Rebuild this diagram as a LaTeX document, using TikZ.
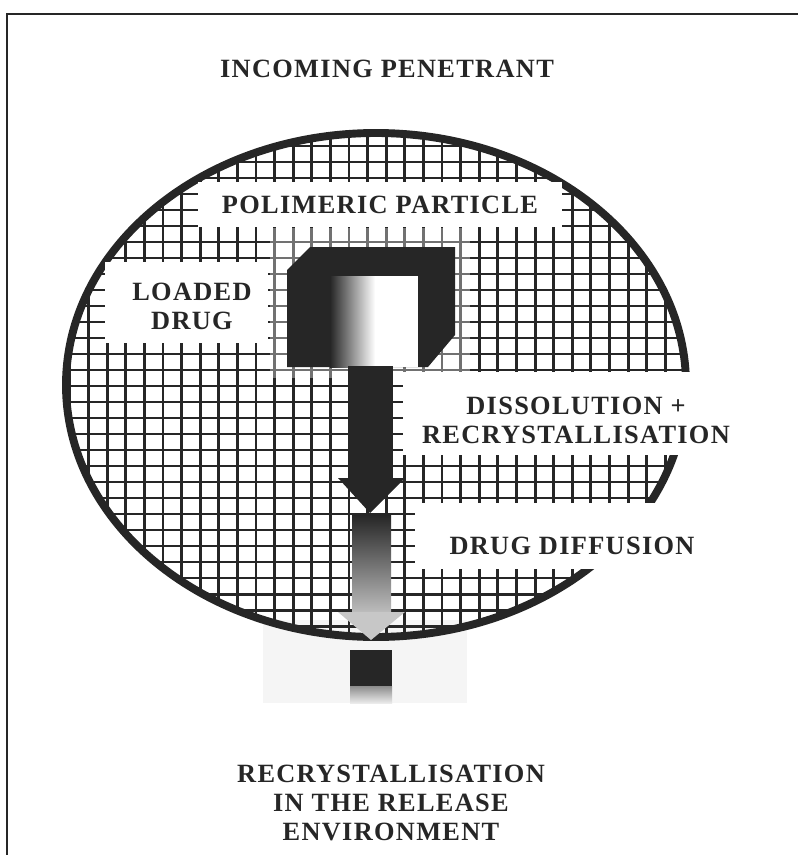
\documentclass[tikz,border=0pt]{standalone}
\usepackage{fontspec}
\setmainfont{Liberation Serif}
\newfontfamily\labelfont{Liberation Serif}[LetterSpace=5]
\definecolor{ink}{HTML}{262626}

\begin{document}
\begin{tikzpicture}[x=0.02cm, y=-0.02cm,
    tag/.style={font=\labelfont\bfseries\fontsize{15}{16.5}\selectfont, align=center, text=ink, inner sep=0pt},
    mesh/.style={ink, line width=1.7pt},
    haze/.style={fill=white, opacity=0.35}]
  \useasboundingbox (0,0) rectangle (798,855);

  % frame
  \draw[ink, line width=1.7pt] (7,855) -- (7,14) -- (798,14);

  % faint patch under the particle
  \fill[black!4] (263,620) rectangle (467,703);

  % polymer mesh
  \begin{scope}
    \clip (376,385) ellipse [x radius=310, y radius=252];
    \foreach \i in {-6,...,28}
      \draw[mesh] ({163+18.6*\i},120) -- ++(0,540);
    \foreach \j in {-17,...,16}
      \draw[mesh] (50,{402+16*\j}) -- ++(700,0);
  \end{scope}
  \draw[ink, line width=4.5pt] (376,385) ellipse [x radius=310, y radius=252];
  \fill[haze] (270,228) rectangle (470,378);

  % label boxes
  \fill[white] (198,182) rectangle (562,227);
  \fill[white] (105,262) rectangle (268,343);
  \fill[white] (403,372) rectangle (745,455);
  \fill[white] (415,503) rectangle (705,569);

  % loaded drug
  \fill[ink] (287,270) -- (310,247) -- (455,247) -- (455,335) -- (428,367) -- (287,367) -- cycle;
  \shade[left color=ink, right color=white] (330,276) rectangle (375,367);
  \fill[white] (375,276) rectangle (418,367);

  % dissolution arrow
  \fill[ink] (348,366) rectangle (393,480);
  \fill[ink] (338,478) -- (405,478) -- (370,513) -- cycle;

  % diffusion arrow
  \shade[top color=ink, bottom color=black!25] (352,515) rectangle (391,614);
  \fill[black!22] (338,612) -- (405,612) -- (371,640) -- cycle;

  % recrystallised drug outside
  \fill[ink] (350,650) rectangle (392,686);
  \shade[top color=black!45, bottom color=black!8] (350,686) rectangle (392,703);

  % labels
  \node[tag] (penetrant) at (387,69) {INCOMING PENETRANT};
  \node[tag] (particle) at (380,205) {POLIMERIC PARTICLE};
  \node[tag] (loaded) at (192,306) {LOADED\\DRUG};
  \node[tag] (dissolution) at (576,420) {DISSOLUTION +\\RECRYSTALLISATION};
  \node[tag] (diffusion) at (572,546) {DRUG DIFFUSION};
  \node[tag] (release) at (391,803) {RECRYSTALLISATION\\IN THE RELEASE\\ENVIRONMENT};
\end{tikzpicture}
\end{document}
